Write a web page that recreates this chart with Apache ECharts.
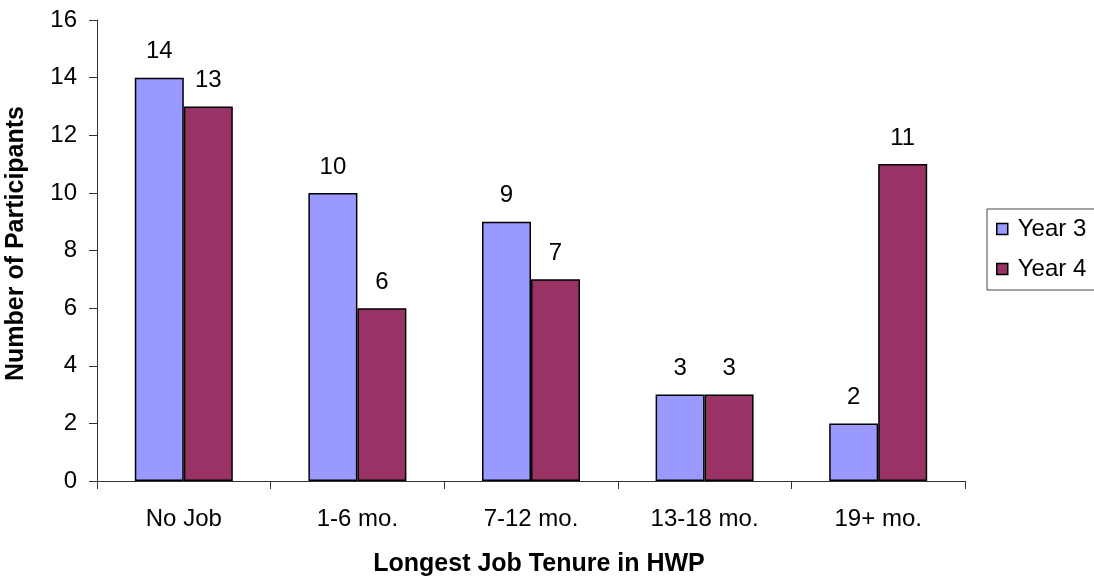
<!DOCTYPE html>
<html>
<head>
<meta charset="utf-8">
<title>Longest Job Tenure in HWP</title>
<script src="https://cdn.jsdelivr.net/npm/echarts@6/dist/echarts.min.js"></script>
<style>
  html, body { margin: 0; padding: 0; background: #fff; }
  #chart { width: 1094px; height: 577px; }
</style>
</head>
<body>
<div id="chart"></div>
<script>
const categories = ['No Job', '1-6 mo.', '7-12 mo.', '13-18 mo.', '19+ mo.']
const year3 = [14, 10, 9, 3, 2]
const year4 = [13, 6, 7, 3, 11]
const yTicks = [0, 2, 4, 6, 8, 10, 12, 14, 16]

const font = '"Liberation Sans", Arial, sans-serif'

const myChart = echarts.init(document.getElementById('chart'), null, { renderer: 'canvas' })

const barLabel = {
  show: true,
  position: 'top',
  distance: 14,
  color: '#000',
  fontSize: 24,
  fontFamily: font,
}

const option = {
  animation: false,
  backgroundColor: '#fff',
  grid: {
    left: 97,
    right: 129,
    top: 20,
    bottom: 96,
    containLabel: false,
    outerBoundsMode: 'none',
  },
  legend: {
    orient: 'vertical',
    left: 987,
    top: 209,
    padding: [8, 30, 9, 9],
    itemGap: 16,
    itemWidth: 11,
    itemHeight: 11,
    icon: 'rect',
    borderColor: '#444',
    borderWidth: 1,
    itemStyle: { borderColor: '#000', borderWidth: 1.5 },
    textStyle: { color: '#000', fontSize: 24, fontFamily: font, padding: [0, 0, 0, 5] },
    data: ['Year 3', 'Year 4'],
  },
  xAxis: {
    type: 'category',
    data: categories,
    name: 'Longest Job Tenure in HWP',
    nameLocation: 'middle',
    nameGap: 71,
    nameTextStyle: { color: '#000', fontSize: 25, fontWeight: 'bold', fontFamily: font, padding: [0, 0, 0, 16] },
    axisLine: { lineStyle: { color: '#333', width: 1 } },
    axisTick: { show: true, length: 8, lineStyle: { color: '#333' } },
    axisLabel: { color: '#000', fontSize: 24, fontFamily: font, margin: 26 },
  },
  yAxis: {
    type: 'value',
    min: yTicks[0],
    max: yTicks[yTicks.length - 1],
    interval: yTicks[1] - yTicks[0],
    name: 'Number of Participants',
    nameLocation: 'middle',
    nameGap: 68,
    nameRotate: 90,
    nameTextStyle: { color: '#000', fontSize: 25, fontWeight: 'bold', fontFamily: font, padding: [0, 0, 0, 14] },
    splitLine: { show: false },
    axisLine: { show: true, lineStyle: { color: '#333', width: 1 } },
    axisTick: { show: true, length: 8, lineStyle: { color: '#333' } },
    axisLabel: { color: '#000', fontSize: 24, fontFamily: font, margin: 20 },
  },
  series: [
    {
      name: 'Year 3',
      type: 'bar',
      data: year3,
      barWidth: 49,
      barGap: '0%',
      itemStyle: { color: '#9999FF', borderColor: '#000', borderWidth: 1.5 },
      label: barLabel,
    },
    {
      name: 'Year 4',
      type: 'bar',
      data: year4,
      barWidth: 49,
      barGap: '0%',
      itemStyle: { color: '#993366', borderColor: '#000', borderWidth: 1.5 },
      label: barLabel,
    },
  ],
}

myChart.setOption(option)
</script>
</body>
</html>
